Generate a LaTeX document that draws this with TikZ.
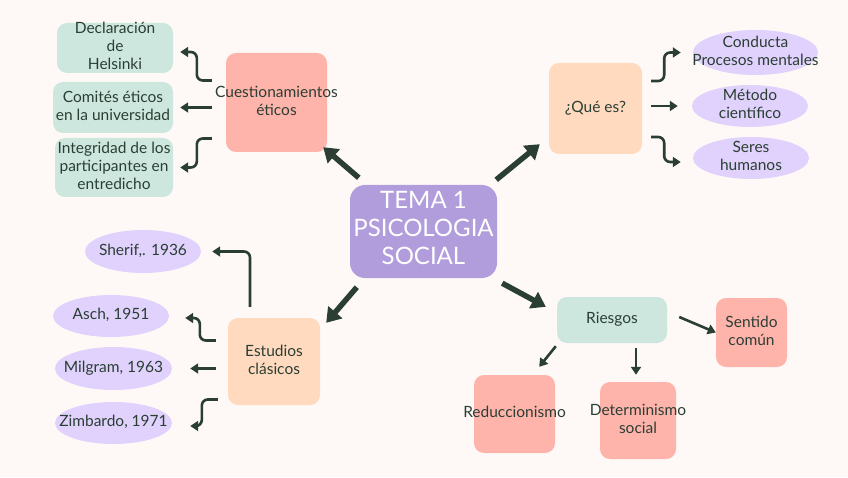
\documentclass[tikz,border=0pt]{standalone}
\usepackage{fontspec}
\setmainfont{Lato}
\usepackage{xcolor}
\definecolor{Paper}{HTML}{FEF9F6}
\definecolor{Ink}{HTML}{2B3E34}
\definecolor{Lavender}{HTML}{B19DDC}
\definecolor{LightLavender}{HTML}{E0D2FC}
\definecolor{Salmon}{HTML}{FFB4AB}
\definecolor{Peach}{HTML}{FFDABE}
\definecolor{Mint}{HTML}{CDE7DF}
\usepackage{tikz}
\usetikzlibrary{arrows.meta,shapes.geometric}
% text that may run past its shape
\newcommand{\fitin}[1]{\makebox[0pt]{\raisebox{-0.25em}[0pt][0pt]{\begin{tabular}{@{}c@{}}#1\end{tabular}}}}
\tikzset{
  mapnode/.style={
    rounded corners=10pt,
    inner sep=0pt,
    align=center,
    font=\fontsize{15.5}{18}\selectfont,
    text=Ink
  },
  mainnode/.style={
    mapnode,
    fill=Lavender,
    rounded corners=15pt,
    text=white,
    font=\fontsize{24}{28}\selectfont
  },
  topicnode/.style={mapnode, fill=Salmon},
  questionnode/.style={mapnode, fill=Peach},
  mintnode/.style={mapnode, fill=Mint},
  ovalnode/.style={mapnode, ellipse, fill=LightLavender},
  bigarrow/.style={
    -{Triangle[length=14pt,width=18pt]},
    line width=5.5pt,
    draw=Ink
  },
  linkarrow/.style={
    -{Triangle[length=8pt,width=10pt]},
    line width=2.6pt,
    draw=Ink,
    rounded corners=6pt
  }
}
\begin{document}
\begin{tikzpicture}[x=1pt,y=1pt]
\fill[Paper] (0,0) rectangle (848,477);
\node[mainnode, minimum width=147pt, minimum height=93pt] (tema) at (423.5,245.5) {\fitin{TEMA 1\\PSICOLOGIA\\SOCIAL}};
% ethics branch
\node[topicnode, minimum width=101pt, minimum height=99pt] (eticos) at (276.5,374.5) {\fitin{Cuestionamientos\\éticos}};
\node[mintnode, minimum width=116pt, minimum height=50pt] (helsinki) at (115,429) {\fitin{Declaración\\de\\Helsinki}};
\node[mintnode, minimum width=120pt, minimum height=51pt] (comites) at (113,369.5) {\fitin{Comités éticos\\en la universidad}};
\node[mintnode, minimum width=118pt, minimum height=59pt] (integridad) at (114,309.5) {\fitin{Integridad de los\\participantes en\\entredicho}};
% definition branch
\node[questionnode, minimum width=93pt, minimum height=91pt] (quees) at (595.5,368.5) {\fitin{¿Qué es?}};
\node[ovalnode, minimum width=125pt, minimum height=45pt] (conducta) at (755.5,424.5) {\fitin{Conducta\\Procesos mentales}};
\node[ovalnode, minimum width=116pt, minimum height=42pt] (metodo) at (750,371) {\fitin{Método\\científico}};
\node[ovalnode, minimum width=116pt, minimum height=42pt] (seres) at (751,319) {\fitin{Seres\\humanos}};
% classic studies branch
\node[questionnode, minimum width=92pt, minimum height=87pt] (estudios) at (274,115.5) {\fitin{Estudios\\clásicos}};
\node[ovalnode, minimum width=116pt, minimum height=43pt] (sherif) at (143,225.5) {\fitin{Sherif,. 1936}};
\node[ovalnode, minimum width=116pt, minimum height=42pt] (asch) at (111,161) {\fitin{Asch, 1951}};
\node[ovalnode, minimum width=117pt, minimum height=43pt] (milgram) at (113.5,108.5) {\fitin{Milgram, 1963}};
\node[ovalnode, minimum width=117pt, minimum height=42pt] (zimbardo) at (113.5,54) {\fitin{Zimbardo, 1971}};
% risks branch
\node[mintnode, minimum width=110pt, minimum height=46pt] (riesgos) at (612,157) {\fitin{Riesgos}};
\node[topicnode, minimum width=71pt, minimum height=69pt] (sentido) at (751.5,144.5) {\fitin{Sentido\\común}};
\node[topicnode, minimum width=81pt, minimum height=78pt] (reduccion) at (514.5,63) {\fitin{Reduccionismo}};
\node[topicnode, minimum width=76pt, minimum height=77pt] (determinismo) at (638,56.5) {\fitin{Determinismo\\social}};
% main arrows
\draw[bigarrow] ([shift={(9,7)}]tema.north west) -- ([shift={(-4,5)}]eticos.south east);
\draw[bigarrow] ([shift={(-1,5)}]tema.north east) -- ([shift={(-9,10)}]quees.south west);
\draw[bigarrow] ([shift={(7,-9)}]tema.south west) -- ([shift={(6,-5)}]estudios.north east);
\draw[bigarrow] ([shift={(5,-5)}]tema.south east) -- ([shift={(-11,-10)}]riesgos.north west);
% ethics links
\draw[linkarrow, shorten >=7pt] ([shift={(-14,22)}]eticos.west) -- ++(-15,0) |- ([yshift=-4]helsinki.east);
\draw[linkarrow, shorten >=7pt] (comites.east -| eticos.west) ++(-14,0) -- (comites.east);
\draw[linkarrow, shorten >=7pt] ([shift={(-14,-36)}]eticos.west) -- ++(-15,0) |- (integridad.east);
% definition links
\draw[linkarrow, shorten >=12pt] ([shift={(9,27.5)}]quees.east) -- ++(13,0) |- (conducta.west);
\draw[linkarrow, shorten >=14pt] (metodo.west -| quees.east) ++(9,0) -- (metodo.west);
\draw[linkarrow, shorten >=12pt] ([shift={(9,-28.5)}]quees.east) -- ++(13,0) |- ([yshift=-4]seres.west);
% studies links
\draw[linkarrow, shorten >=11pt] ([shift={(-24,11)}]estudios.north) |- (sherif.east);
\draw[linkarrow, shorten >=16pt] ([shift={(-12,21)}]estudios.west) -- ++(-16,0) |- ([yshift=-2]asch.east);
\draw[linkarrow, shorten >=18pt] (milgram.east -| estudios.west) ++(-12,0) -- (milgram.east);
\draw[linkarrow, shorten >=18pt] ([shift={(-10,-38)}]estudios.west) -- ++(-16,0) |- ([yshift=-3]zimbardo.east);
% risks links
\draw[linkarrow] ([shift={(12,3)}]riesgos.east) -- (sentido.west);
\draw[linkarrow] ([shift={(-1,-3)}]riesgos.south west) -- ([shift={(-16,8)}]reduccion.north east);
\draw[linkarrow] ([shift={(24,-5)}]riesgos.south) -- ([shift={(-2,7)}]determinismo.north);
\end{tikzpicture}
\end{document}
